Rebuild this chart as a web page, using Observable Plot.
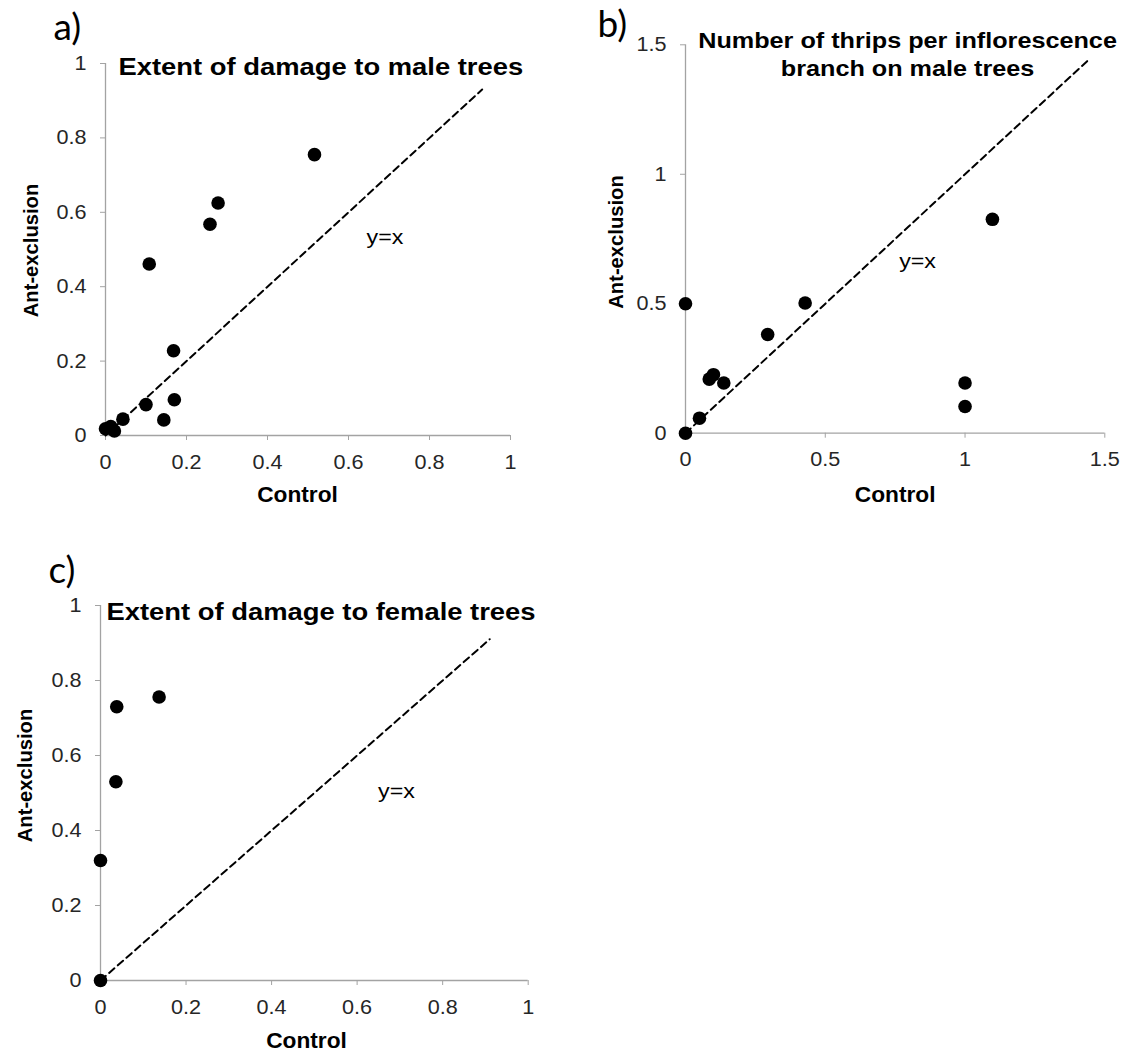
<!DOCTYPE html>
<html>
<head>
<meta charset="utf-8">
<script src="https://cdn.jsdelivr.net/npm/d3@7"></script>
<script src="https://cdn.jsdelivr.net/npm/@observablehq/plot@0.6"></script>
<style>
  body { margin: 0; background: #fff; }
  #root { position: relative; width: 1126px; height: 1055px; background: #fff; overflow: hidden; }
  .panel { position: absolute; }
  .panel svg { overflow: visible; }
</style>
</head>
<body>
<div id="root"></div>
<script>
// ---------- data ----------
const panelLetters = ["a)", "b)", "c)"];
const panelTitles = [
  ["Extent of damage to male trees"],
  ["Number of thrips per inflorescence", "branch on male trees"],
  ["Extent of damage to female trees"]
];
const xAxisTitle = "Control";
const yAxisTitle = "Ant-exclusion";
const diagonalLabel = "y=x";

// a) extent of damage to male trees
const controlA = [0.516, 0.278, 0.258, 0.108, 0.168, 0.170, 0.100, 0.144, 0.043, 0.000, 0.013, 0.022];
const antExclA = [0.755, 0.625, 0.568, 0.461, 0.228, 0.096, 0.083, 0.042, 0.044, 0.018, 0.024, 0.012];
// b) number of thrips per inflorescence branch on male trees
const controlB = [0.000, 1.098, 0.428, 0.294, 0.085, 0.100, 0.137, 0.050, 0.000, 1.000, 1.000];
const antExclB = [0.500, 0.826, 0.503, 0.381, 0.209, 0.226, 0.194, 0.058, 0.000, 0.194, 0.103];
// c) extent of damage to female trees
const controlC = [0.000, 0.000, 0.036, 0.038, 0.137];
const antExclC = [0.000, 0.320, 0.530, 0.730, 0.756];

const ticksDamage = [0, 0.2, 0.4, 0.6, 0.8, 1];
const ticksThrips = [0, 0.5, 1, 1.5];
const domainDamage = [0, 1];
const domainThrips = [0, 1.5];
const diagonalEnds = [0.93, 1.44, 0.91];          // where each dashed y=x line stops
const diagonalLabelAt = [[0.69, 0.531], [0.83, 0.662], [0.692, 0.503]];

// ---------- drawing ----------
const AXIS_GREY = "#a3a3a3";
const TICK_TEXT = "#262626";
const SANS = "'Liberation Sans', Arial, sans-serif";

function scatterPanel(cfg) {
  const pts = cfg.xs.map((x, i) => ({x, y: cfg.ys[i]}));
  const diag = [0, cfg.diagEnd].map(v => ({x: v, y: v}));
  const marks = [
    Plot.ruleY([0], {stroke: AXIS_GREY, strokeWidth: 1.3}),
    Plot.ruleX([0], {stroke: AXIS_GREY, strokeWidth: 1.3}),
    Plot.axisX({ticks: cfg.ticks, tickSize: 5, tickPadding: 14, stroke: AXIS_GREY, fill: TICK_TEXT, tickFormat: d => String(d), label: null}),
    Plot.axisY({ticks: cfg.ticks, tickSize: 5, tickPadding: 14, stroke: AXIS_GREY, fill: TICK_TEXT, tickFormat: d => String(d), label: null}),
    Plot.line(diag, {x: "x", y: "y", stroke: "#000", strokeWidth: 2, strokeDasharray: "7,4.5"}),
    Plot.dot(pts, {x: "x", y: "y", r: 6.8, fill: "#000", stroke: "none"}),
    Plot.text([cfg.yxAt], {x: d => d[0], y: d => d[1], text: () => diagonalLabel, fontSize: 19.5, fill: "#000",
      textAnchor: "middle", lineAnchor: "middle"}),
    Plot.text([cfg.letter], {text: d => d, frameAnchor: "top-left", dx: cfg.letterOff[0], dy: cfg.letterOff[1],
      textAnchor: "start", lineAnchor: "middle", fontFamily: "Lato, 'Open Sans', sans-serif", fontSize: 37, fill: "#000"}),
    Plot.text([xAxisTitle], {text: d => d, frameAnchor: "bottom", dx: cfg.ctrlOff[0], dy: cfg.ctrlOff[1],
      textAnchor: "middle", lineAnchor: "middle", fontSize: 21.5, fontWeight: "bold", fill: "#000"}),
    Plot.text([yAxisTitle], {text: d => d, frameAnchor: "left", dx: cfg.antOff[0], dy: cfg.antOff[1], rotate: -90,
      textAnchor: "middle", lineAnchor: "middle", fontSize: 20.2, fontWeight: "bold", fill: "#000"})
  ];
  cfg.titles.forEach((t, i) => {
    marks.push(Plot.text([t], {text: d => d, frameAnchor: cfg.titleAnchor, dx: cfg.titleOffs[i][0], dy: cfg.titleOffs[i][1],
      textAnchor: cfg.titleAnchor === "top" ? "middle" : "start", lineAnchor: "middle",
      fontSize: cfg.titleSize, fontWeight: "bold", fill: "#000"}));
  });
  const svg = Plot.plot({
    width: cfg.w, height: cfg.h,
    marginLeft: cfg.m[0], marginRight: cfg.m[1], marginTop: cfg.m[2], marginBottom: cfg.m[3],
    x: {domain: cfg.domain}, y: {domain: cfg.domain},
    style: {fontFamily: SANS, fontSize: "20px", color: TICK_TEXT, background: "transparent", overflow: "visible"},
    marks
  });
  const holder = document.createElement("div");
  holder.className = "panel";
  holder.style.left = cfg.left + "px";
  holder.style.top = cfg.top + "px";
  holder.appendChild(svg);
  document.getElementById("root").appendChild(holder);
  return svg;
}

const svgs = [
  scatterPanel({
    letter: panelLetters[0], titles: panelTitles[0], xs: controlA, ys: antExclA,
    ticks: ticksDamage, domain: domainDamage, diagEnd: diagonalEnds[0], yxAt: diagonalLabelAt[0],
    left: 0, top: 0, w: 560, h: 520, m: [105, 50, 63, 85],
    letterOff: [-52, -35], titleAnchor: "top-left", titleOffs: [[13, 3.8]], titleSize: 23.5,
    ctrlOff: [-10.5, 60], antOff: [-74, 1]
  }),
  scatterPanel({
    letter: panelLetters[1], titles: panelTitles[1], xs: controlB, ys: antExclB,
    ticks: ticksThrips, domain: domainThrips, diagEnd: diagonalEnds[1], yxAt: diagonalLabelAt[1],
    left: 580, top: 0, w: 546, h: 520, m: [105, 21.7, 44.3, 87.3],
    letterOff: [-88, -19.5], titleAnchor: "top", titleOffs: [[12.4, -4.2], [12.4, 23.8]], titleSize: 22.5,
    ctrlOff: [0, 62], antOff: [-69, 3]
  }),
  scatterPanel({
    letter: panelLetters[2], titles: panelTitles[2], xs: controlC, ys: antExclC,
    ticks: ticksDamage, domain: domainDamage, diagEnd: diagonalEnds[2], yxAt: diagonalLabelAt[2],
    left: 0, top: 520, w: 580, h: 535, m: [100, 52.3, 85, 75],
    letterOff: [-52, -34], titleAnchor: "top-left", titleOffs: [[6, 6.8]], titleSize: 23.5,
    ctrlOff: [-7.85, 61], antOff: [-75, -17.5]
  })
];

// The reference text is rendered a little wider than Arial: widen glyphs horizontally.
const widen = {"20px": 1.08, "19.5px": 1.19, "21.5px": 1.056, "22.5px": 1.12, "23.5px": 1.165};
for (const svg of svgs) {
  svg.querySelectorAll("text").forEach(t => {
    const k = widen[getComputedStyle(t).fontSize];
    if (!k || t.querySelector("tspan")) return;
    const w = t.getComputedTextLength();
    t.setAttribute("textLength", (w * k).toFixed(2));
    t.setAttribute("lengthAdjust", "spacingAndGlyphs");
  });
}
</script>
</body>
</html>
